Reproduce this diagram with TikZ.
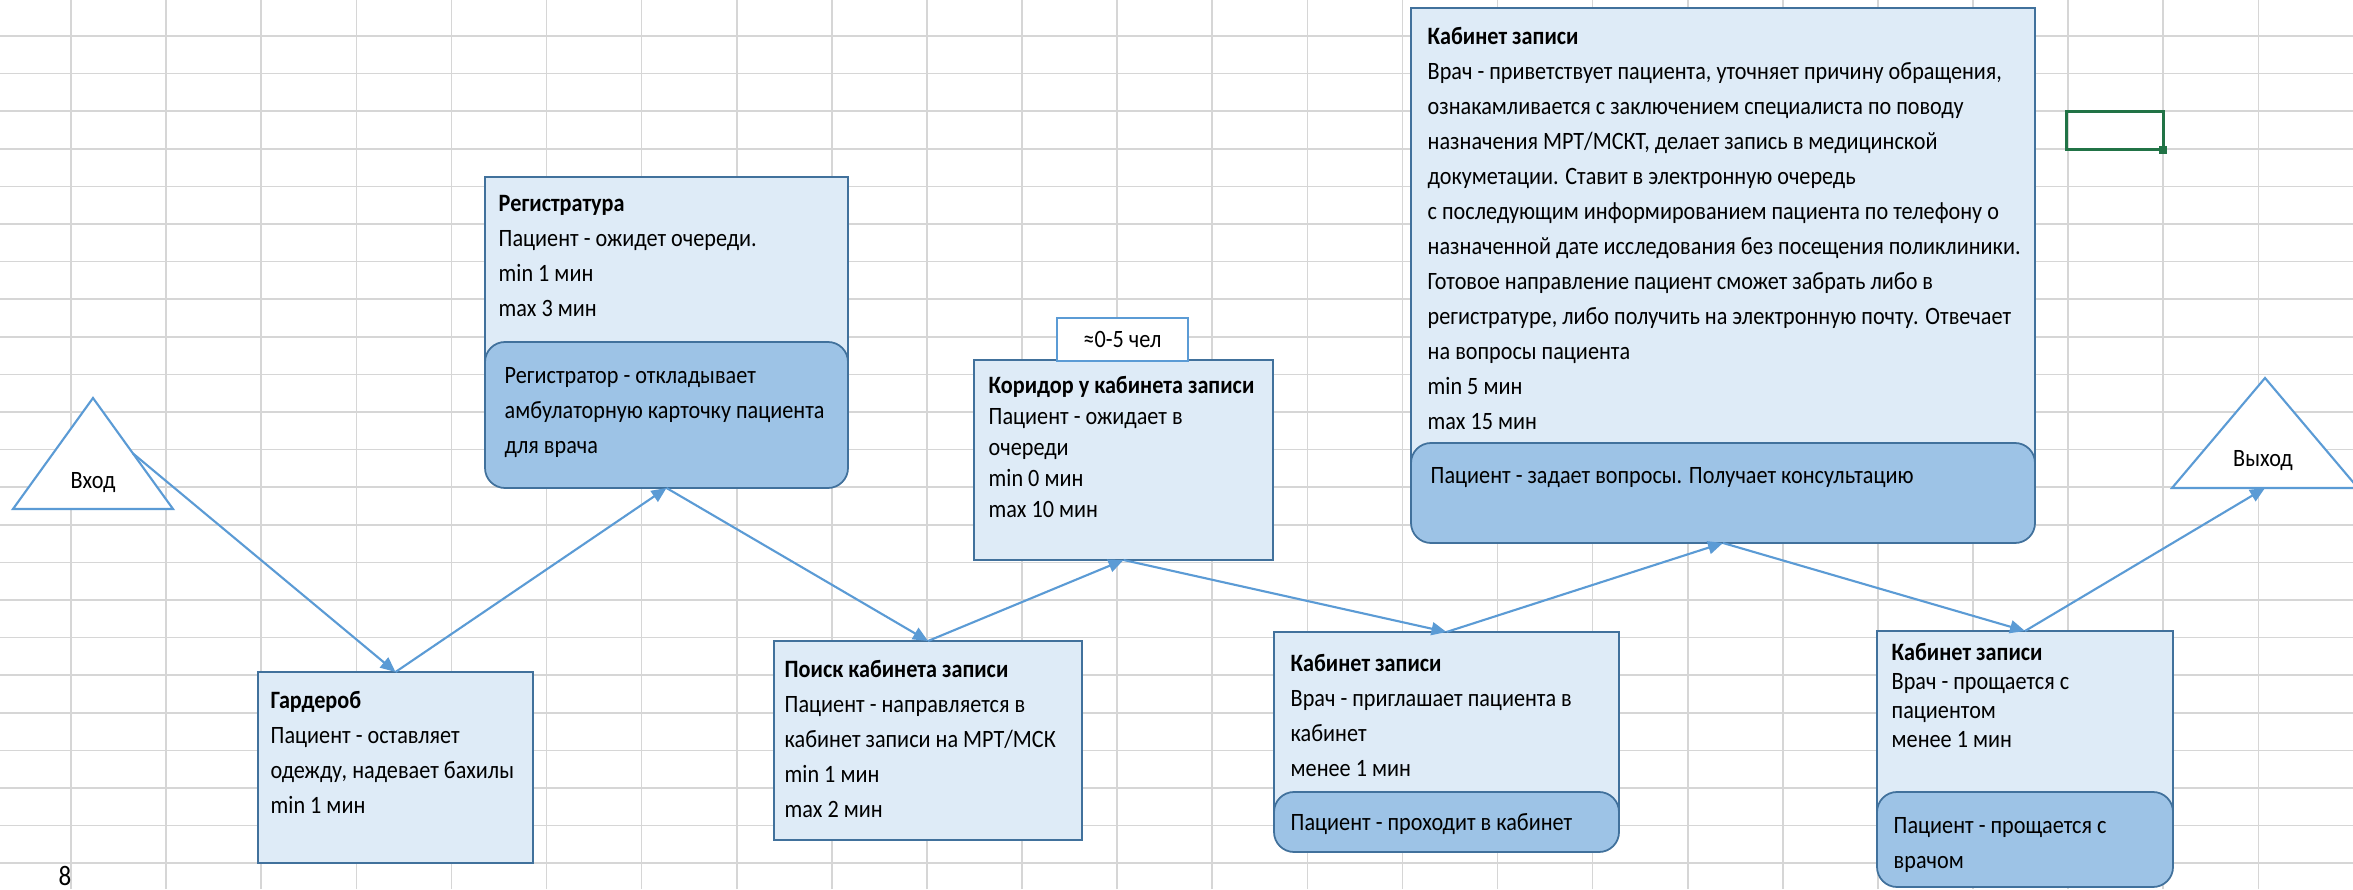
\documentclass[tikz,border=0pt]{standalone}
\usepackage{fontspec}
\setmainfont{Carlito}[FakeStretch=0.89]
\usetikzlibrary{arrows.meta,calc,positioning}

\definecolor{lightfill}{HTML}{DEEBF7}
\definecolor{darkfill}{HTML}{9DC3E6}
\definecolor{boxline}{HTML}{41719C}
\definecolor{arrowblue}{HTML}{5B9BD5}
\definecolor{gridgray}{HTML}{D6D6D6}
\definecolor{excelgreen}{HTML}{217346}

\tikzset{
  grid line/.style={draw=gridgray, line width=0.45pt},
  lightbox/.style={draw=boxline, line width=0.5pt, fill=lightfill, anchor=north west, inner sep=0pt, outer sep=0pt},
  darkbox/.style={draw=boxline, line width=0.5pt, fill=darkfill, rounded corners=0.2cm, anchor=north west, inner sep=0pt, outer sep=0pt},
  boxtext/.style={anchor=north west, inner sep=0pt, align=left, font=\fontsize{7.1}{9.96}\selectfont},
  tighttext/.style={boxtext, font=\fontsize{7.1}{8.8}\selectfont},
  cabtext/.style={boxtext, font=\fontsize{7.1}{8.2}\selectfont},
  arr/.style={draw=arrowblue, line width=0.6pt, -{Triangle[length=0.15cm,width=0.13cm]}},
  tri/.style={draw=arrowblue, line width=0.6pt, fill=white},
}

\begin{document}
\begin{tikzpicture}

    \useasboundingbox (0,0) rectangle (23.53,8.89);
    \clip (0,0) rectangle (23.53,8.89);
    \fill[white] (0,0) rectangle (23.53,8.89);

    % Sheet grid.
    \foreach \k in {0,...,22}
        \draw[grid line] (0,{8.53-0.376*\k}) -- (23.53,{8.53-0.376*\k});
    \foreach \k in {0,...,24}
        \draw[grid line] ({0.71+0.951*\k},0) -- ({0.71+0.951*\k},8.89);

    % Selected cell.
    \draw[excelgreen, line width=0.85pt] (20.66,7.77) rectangle (21.63,7.39);
    \fill[excelgreen] (21.59,7.35) rectangle (21.67,7.43);
    \node[anchor=south west, inner sep=0pt, font=\fontsize{8}{9}\selectfont] (rownum) at (0.58,0.03) {8};

    % Entry and exit.
    \draw[tri] (0.13,3.80) coordinate (vhod-l) -- (0.93,4.91) coordinate (vhod-top)
        -- (1.73,3.80) coordinate (vhod-r) -- cycle;
    \node[font=\fontsize{7.1}{9.96}\selectfont] (vhod) at (0.93,4.06) {Вход};
    \coordinate (vhod-side) at ($(vhod-top)!.5!(vhod-r)$);

    \draw[tri] (21.72,4.01) coordinate (vyhod-l) -- (22.65,5.11) coordinate (vyhod-top)
        -- (23.58,4.01) coordinate (vyhod-r) -- cycle;
    \node[font=\fontsize{7.1}{9.96}\selectfont] (vyhod) at (22.63,4.28) {Выход};
    \coordinate (vyhod-base) at ($(vyhod-l)!.5!(vyhod-r)$);

    % Boxes.
    \node[lightbox, minimum width=2.75cm, minimum height=1.91cm] (gard) at (2.58,2.17) {};
    \node[boxtext] (gard-t) at (2.70,2.06) {\strut\textbf{Гардероб}\\Пациент - оставляет\\одежду, надевает бахилы\\min 1 мин};

    \node[lightbox, minimum width=3.63cm, minimum height=2.23cm] (reg) at (4.85,7.12) {};
    \node[darkbox, minimum width=3.63cm, minimum height=1.46cm] (reg-d) at (4.85,5.47) {};
    \node[boxtext] (reg-t) at (4.98,7.03) {\strut\textbf{Регистратура}\\Пациент - ожидет очереди.\\min 1 мин\\max 3 мин};
    \node[boxtext] (reg-dt) at (5.04,5.31) {\strut Регистратор - откладывает\\амбулаторную карточку пациента\\для врача};

    \node[lightbox, minimum width=3.08cm, minimum height=1.99cm] (poisk) at (7.74,2.48) {};
    \node[boxtext] (poisk-t) at (7.84,2.37) {\strut\textbf{Поиск кабинета записи}\\Пациент - направляется в\\кабинет записи на МРТ/МСК\\min 1 мин\\max 2 мин};

    \node[lightbox, minimum width=2.99cm, minimum height=2.00cm] (korr) at (9.74,5.29) {};
    \node[draw=arrowblue, line width=0.5pt, fill=white, anchor=north west, inner sep=0pt,
        minimum width=1.31cm, minimum height=0.43cm, font=\fontsize{7.1}{9.96}\selectfont] (ochered) at (10.56,5.72) {≈0-5 чел};
    \node[tighttext] (korr-t) at (9.88,5.18) {\strut\textbf{Коридор у кабинета записи}\\Пациент - ожидает в\\очереди\\min 0 мин\\max 10 мин};

    \node[lightbox, minimum width=6.24cm, minimum height=4.72cm] (kab1) at (14.11,8.81) {};
    \node[darkbox, minimum width=6.24cm, minimum height=1.00cm] (kab1-d) at (14.11,4.46) {};
    \node[boxtext] (kab1-t) at (14.27,8.70) {\strut\textbf{Кабинет записи}\\
        Врач - приветствует пациента, уточняет причину обращения,\\
        ознакамливается с заключением специалиста по поводу\\
        назначения МРТ/МСКТ, делает запись в медицинской\\
        докуметации. Ставит в электронную очередь\\
        с последующим информированием пациента по телефону о\\
        назначенной дате исследования без посещения поликлиники.\\
        Готовое направление пациент сможет забрать либо в\\
        регистратуре, либо получить на электронную почту. Отвечает\\
        на вопросы пациента\\
        min 5 мин\\
        max 15 мин};
    \node[boxtext] (kab1-dt) at (14.30,4.31) {\strut Пациент - задает вопросы. Получает консультацию};

    \node[lightbox, minimum width=3.45cm, minimum height=1.88cm] (kab2) at (12.74,2.57) {};
    \node[darkbox, minimum width=3.45cm, minimum height=0.60cm] (kab2-d) at (12.74,0.97) {};
    \node[boxtext] (kab2-t) at (12.90,2.43) {\strut\textbf{Кабинет записи}\\Врач - приглашает пациента в\\кабинет\\менее 1 мин};
    \node[boxtext] (kab2-dt) at (12.90,0.84) {\strut Пациент - проходит в кабинет};

    \node[lightbox, minimum width=2.96cm, minimum height=1.89cm] (kab3) at (18.77,2.58) {};
    \node[darkbox, minimum width=2.96cm, minimum height=0.95cm] (kab3-d) at (18.77,0.97) {};
    \node[cabtext] (kab3-t) at (18.91,2.49) {\strut\textbf{Кабинет записи}\\Врач - прощается с\\пациентом\\менее 1 мин};
    \node[boxtext] (kab3-dt) at (18.93,0.81) {\strut Пациент - прощается с\\врачом};

    % Patient route.
    \draw[arr] (vhod-side) -- (gard.north);
    \draw[arr] (gard.north) -- (reg-d.south);
    \draw[arr] (reg-d.south) -- (poisk.north);
    \draw[arr] (poisk.north) -- (korr.south);
    \draw[arr] (korr.south) -- (kab2.north);
    \draw[arr] (kab2.north) -- (kab1-d.south);
    \draw[arr] (kab1-d.south) -- (kab3.north);
    \draw[arr] (kab3.north) -- (vyhod-base);

\end{tikzpicture}
\end{document}
